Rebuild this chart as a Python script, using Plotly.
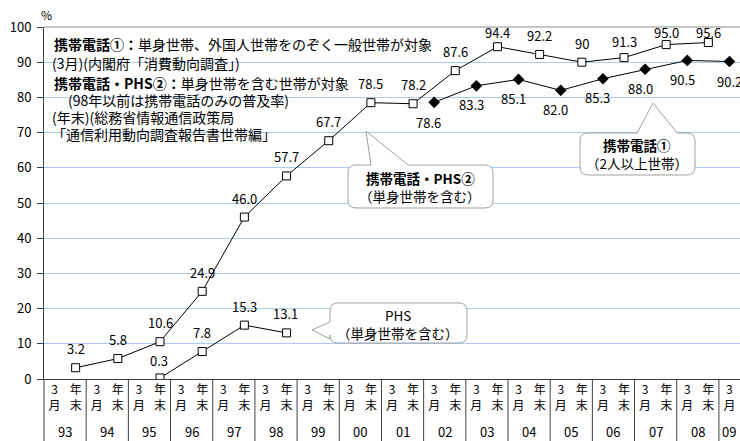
import plotly.graph_objects as go

# ---------------- data ----------------
years = ["93", "94", "95", "96", "97", "98", "99", "00", "01",
         "02", "03", "04", "05", "06", "07", "08", "09"]

# 携帯電話・PHS② (年末)
phs2_years = ["93", "94", "95", "96", "97", "98", "99", "00",
              "01", "02", "03", "04", "05", "06", "07", "08"]
phs2_values = [3.2, 5.8, 10.6, 24.9, 46.0, 57.7, 67.7, 78.5,
               78.2, 87.6, 94.4, 92.2, 90, 91.3, 95.0, 95.6]

# 携帯電話① (3月)
mob1_years = ["02", "03", "04", "05", "06", "07", "08", "09"]
mob1_values = [78.6, 83.3, 85.1, 82.0, 85.3, 88.0, 90.5, 90.2]

# PHS (年末)
phs_years = ["95", "96", "97", "98"]
phs_values = [0.3, 7.8, 15.3, 13.1]

y_ticks = [0, 10, 20, 30, 40, 50, 60, 70, 80, 90, 100]

# ---------------- styles ----------------
FONT = "Noto Sans CJK JP"
GRID = "#A6CDF2"
AXIS = "#404040"
BOXLINE = "#A0A0A0"

# label offsets (pixels): (xshift, yshift)
phs2_off = [(0, 19)] * 10 + [(0, 14), (0, 19), (0, 19), (0, 16), (0, 12), (0, 10)]
mob1_off = [(-6, -20)] + [(-5, -19)] * 6 + [(0, -20)]
phs_off = [(-1, 17), (0, 19), (0, 19), (-1, 19)]


def fmt(v):
    return "90" if v == 90 else f"{v:.1f}"


# categories
cats, ticktext = [], []
for y in years:
    cats.append(y + "年3月")
    ticktext.append("3<br>月")
    if y != "09":
        cats.append(y + "年末")
        ticktext.append("年<br>末")
NC = len(cats)

W_PX, H_PX = 740, 441
L, T, R, B = 44, 27, 740, 379
PW, PH = R - L, B - T


def px(x):
    return (x - L) / PW


def py(y):
    return (B - y) / PH


fig = go.Figure()

fig.add_trace(go.Scatter(
    x=[y + "年末" for y in phs2_years], y=phs2_values, mode="lines+markers",
    line=dict(color="black", width=1),
    marker=dict(symbol="square", size=8, color="white", line=dict(color="black", width=1)),
    name="携帯電話・PHS②", hoverinfo="x+y"))
fig.add_trace(go.Scatter(
    x=[y + "年3月" for y in mob1_years], y=mob1_values, mode="lines+markers",
    line=dict(color="black", width=1),
    marker=dict(symbol="diamond", size=9, color="black", line=dict(color="black", width=0)),
    name="携帯電話①", hoverinfo="x+y"))
fig.add_trace(go.Scatter(
    x=[y + "年末" for y in phs_years], y=phs_values, mode="lines+markers",
    line=dict(color="black", width=1),
    marker=dict(symbol="square", size=8, color="white", line=dict(color="black", width=1)),
    name="PHS", hoverinfo="x+y"))

ann = []
lab_font = dict(family=FONT, size=13, color="black")
for y, v, (dx, dy) in zip(phs2_years, phs2_values, phs2_off):
    ann.append(dict(x=y + "年末", y=v, xref="x", yref="y", text=fmt(v), showarrow=False,
                    xshift=dx, yshift=dy, font=lab_font))
for y, v, (dx, dy) in zip(mob1_years, mob1_values, mob1_off):
    ann.append(dict(x=y + "年3月", y=v, xref="x", yref="y", text=fmt(v), showarrow=False,
                    xshift=dx, yshift=dy, font=lab_font))
for y, v, (dx, dy) in zip(phs_years, phs_values, phs_off):
    ann.append(dict(x=y + "年末", y=v, xref="x", yref="y", text=fmt(v), showarrow=False,
                    xshift=dx, yshift=dy, font=lab_font))

# year labels under the axis
for k, y in enumerate(years):
    xc = (2 * k + 1) / NC if y != "09" else (NC - 0.5) / NC
    ann.append(dict(x=xc, y=py(431), xref="paper", yref="paper", text=y, showarrow=False,
                    xanchor="center", yanchor="middle",
                    font=dict(family=FONT, size=13, color="black")))

# % unit
ann.append(dict(x=px(46), y=py(14), xref="paper", yref="paper", text="%", showarrow=False,
                xanchor="center", yanchor="middle",
                font=dict(family=FONT, size=12, color="black")))

# top-left note block
txt_font = dict(family=FONT, size=14, color="black")
notes = [
    (52, 44, "<b>携帯電話①：</b>単身世帯、外国人世帯をのぞく一般世帯が対象"),
    (50, 63, "(3月)(内閣府「消費動向調査」)"),
    (52, 83, "<b>携帯電話・PHS②：</b>単身世帯を含む世帯が対象"),
    (66, 100, "(98年以前は携帯電話のみの普及率)"),
    (50, 117, "(年末)(総務省情報通信政策局"),
    (50, 134, "「通信利用動向調査報告書世帯編」"),
]
for x, y, t in notes:
    ann.append(dict(x=px(x), y=py(y), xref="paper", yref="paper", text=t, showarrow=False,
                    xanchor="left", yanchor="middle", font=txt_font))


def bubble(x0, y0, x1, y1, side, ba, bb, tip, r=8):
    P = lambda x, y: f"{px(x):.5f},{py(y):.5f}"
    s = f"M {P(x0 + r, y0)} "
    if side == "top":
        s += f"L {P(ba, y0)} L {P(*tip)} L {P(bb, y0)} "
    s += f"L {P(x1 - r, y0)} Q {P(x1, y0)} {P(x1, y0 + r)} "
    s += f"L {P(x1, y1 - r)} Q {P(x1, y1)} {P(x1 - r, y1)} "
    s += f"L {P(x0 + r, y1)} Q {P(x0, y1)} {P(x0, y1 - r)} "
    if side == "left":
        s += f"L {P(x0, bb)} L {P(*tip)} L {P(x0, ba)} "
    s += f"L {P(x0, y0 + r)} Q {P(x0, y0)} {P(x0 + r, y0)} Z"
    return dict(type="path", path=s, xref="paper", yref="paper",
                line=dict(color=BOXLINE, width=1), fillcolor="white", layer="above")


shapes = []
# top border
shapes.append(dict(type="line", xref="paper", yref="paper", x0=0, x1=1, y0=1, y1=1,
                   line=dict(color="#8C8C8C", width=1)))
# year dividers below axis
for k in range(len(years)):
    xv = 2 * k / NC
    shapes.append(dict(type="line", xref="paper", yref="paper", x0=xv, x1=xv, y0=0,
                       y1=-(H_PX - B) / PH, line=dict(color=AXIS, width=1)))

shapes.append(bubble(348, 165, 493, 208, "top", 371, 408, (366, 131)))
shapes.append(bubble(580, 133, 695, 175, "top", 637, 677, (653, 103)))
shapes.append(bubble(330, 303, 467, 343, "left", 322, 339, (312, 330)))

box_font = dict(family=FONT, size=13.5, color="black")
box_texts = [
    (420, 178, "<b>携帯電話・PHS②</b>"),
    (420, 196, "（単身世帯を含む）"),
    (637, 145, "<b>携帯電話①</b>"),
    (637, 163, "（2人以上世帯）"),
    (398, 315, "PHS"),
    (398, 333, "（単身世帯を含む）"),
]
for x, y, t in box_texts:
    ann.append(dict(x=px(x), y=py(y), xref="paper", yref="paper", text=t, showarrow=False,
                    xanchor="center", yanchor="middle", font=box_font))

fig.update_layout(
    width=W_PX, height=H_PX, autosize=False,
    margin=dict(l=L, r=W_PX - R, t=T, b=H_PX - B, pad=0),
    paper_bgcolor="white", plot_bgcolor="white",
    showlegend=False,
    font=dict(family=FONT, size=12, color="black"),
    xaxis=dict(type="category", categoryorder="array", categoryarray=cats,
               range=[-0.5, NC - 0.5], tickvals=cats, ticktext=ticktext,
               ticks="", showgrid=False, showline=True, linecolor=AXIS, linewidth=1,
               tickfont=dict(family=FONT, size=12, color="black"), fixedrange=True),
    yaxis=dict(range=[0, 100], tickvals=y_ticks, showgrid=True, gridcolor=GRID, gridwidth=1,
               showline=True, linecolor=AXIS, linewidth=1, ticks="outside", ticklen=6,
               tickcolor=AXIS, zeroline=False, ticklabelstandoff=3,
               tickfont=dict(family=FONT, size=13, color="black"), fixedrange=True),
    annotations=ann, shapes=shapes,
)

fig.write_html(
    "out.html",
    config={"displayModeBar": False},
    post_script="document.body.style.margin='0';document.body.style.padding='0';"
                "document.body.style.overflow='hidden';",
)
